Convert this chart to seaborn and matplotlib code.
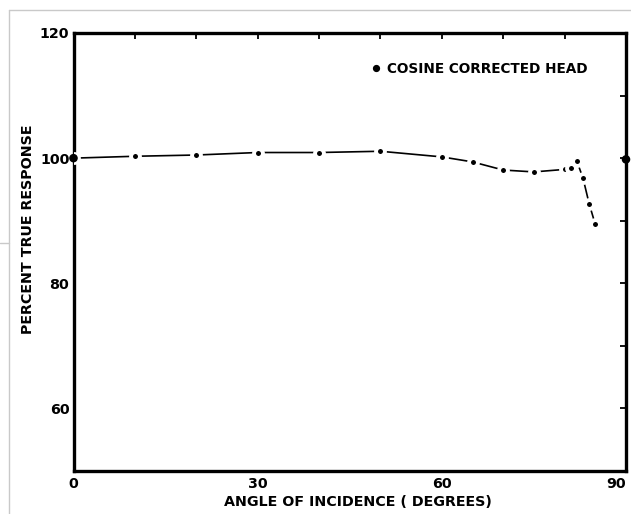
import matplotlib
matplotlib.use("Agg")
import matplotlib.pyplot as plt
from matplotlib.lines import Line2D
import seaborn as sns
import pandas as pd

# Measured response of the cosine corrected head
angles = [0, 10, 20, 30, 40, 50, 60, 65, 70, 75, 80, 81, 82, 83, 84, 85]
response = [100.0, 100.3, 100.5, 100.9, 100.9, 101.1, 100.2, 99.4,
            98.1, 97.8, 98.2, 98.5, 99.5, 96.8, 92.7, 89.4]

# Reference points at the ends of the angle range
ref_angles = [0, 90]
ref_response = [100.0, 99.8]

x_ticks = [0, 10, 20, 30, 40, 50, 60, 70, 80, 90]
x_labels = ["0", "", "", "30", "", "", "60", "", "", "90"]
y_ticks = [50, 60, 70, 80, 90, 100, 110, 120]
y_labels = ["", "60", "", "80", "", "100", "", "120"]

sns.set_theme(style="white")
plt.rcParams["font.family"] = ["DejaVu Sans"]
plt.rcParams["text.color"] = "black"
FONT = {"size": 10.3, "weight": "bold"}

fig = plt.figure(figsize=(6.31, 5.14), dpi=100)
ax = fig.add_axes([73.5 / 631, 1 - 471 / 514, 552.5 / 631, 438 / 514])

df = pd.DataFrame({"angle": angles, "response": response})
sns.lineplot(data=df, x="angle", y="response", ax=ax, color="black",
             linewidth=1.2, marker="o", markersize=6.4,
             markerfacecolor="black", markeredgecolor="white",
             markeredgewidth=2.8, zorder=3)

ref = pd.DataFrame({"angle": ref_angles, "response": ref_response})
sns.scatterplot(data=ref, x="angle", y="response", ax=ax, color="black",
                s=38, edgecolor="none", zorder=4, clip_on=False)

ax.set_xlim(0, 90)
ax.set_ylim(50, 120)
ax.set_xticks(x_ticks)
ax.set_xticklabels(x_labels)
ax.set_yticks(y_ticks)
ax.set_yticklabels(y_labels)

for side in ["left", "right", "top", "bottom"]:
    ax.spines[side].set_visible(True)
    ax.spines[side].set_color("black")
    ax.spines[side].set_linewidth(2.4)

ax.tick_params(axis="both", which="both", direction="in", length=4,
               width=1.3, color="black", top=True, right=True,
               labelcolor="black", pad=4)
ax.tick_params(axis="y", pad=3)
for lbl in ax.get_xticklabels() + ax.get_yticklabels():
    lbl.set_fontsize(FONT["size"])
    lbl.set_fontweight(FONT["weight"])
# the last angle label sits flush with the right edge
ax.get_xticklabels()[-1].set_horizontalalignment("right")

ax.set_xlabel("ANGLE OF INCIDENCE ( DEGREES)", fontdict=FONT, color="black")
ax.set_ylabel("PERCENT TRUE RESPONSE", fontdict=FONT, color="black")
ax.xaxis.set_label_coords(0.515, -0.055)
ax.yaxis.set_label_coords(-0.069, 0.553)

handle = Line2D([], [], linestyle="none", marker="o", markersize=4.2,
                color="black")
leg = ax.legend([handle], ["COSINE CORRECTED HEAD"], loc="center left",
                bbox_to_anchor=(0.542, 0.918), frameon=False,
                handlelength=0.5, handletextpad=0.5, borderpad=0,
                borderaxespad=0, prop={"size": 9.8, "weight": "bold"})
for t in leg.get_texts():
    t.set_color("black")

# faint page edges around the printed figure
edge = "#c9c9c9"
fig.add_artist(Line2D([9 / 631, 1], [1 - 10 / 514, 1 - 10 / 514],
                      color=edge, linewidth=1, transform=fig.transFigure))
fig.add_artist(Line2D([9 / 631, 9 / 631], [0, 1 - 10 / 514],
                      color=edge, linewidth=1, transform=fig.transFigure))
fig.add_artist(Line2D([0, 9 / 631], [1 - 243 / 514, 1 - 243 / 514],
                      color=edge, linewidth=1, transform=fig.transFigure))

fig.savefig("out.png", dpi=100, facecolor="white")
